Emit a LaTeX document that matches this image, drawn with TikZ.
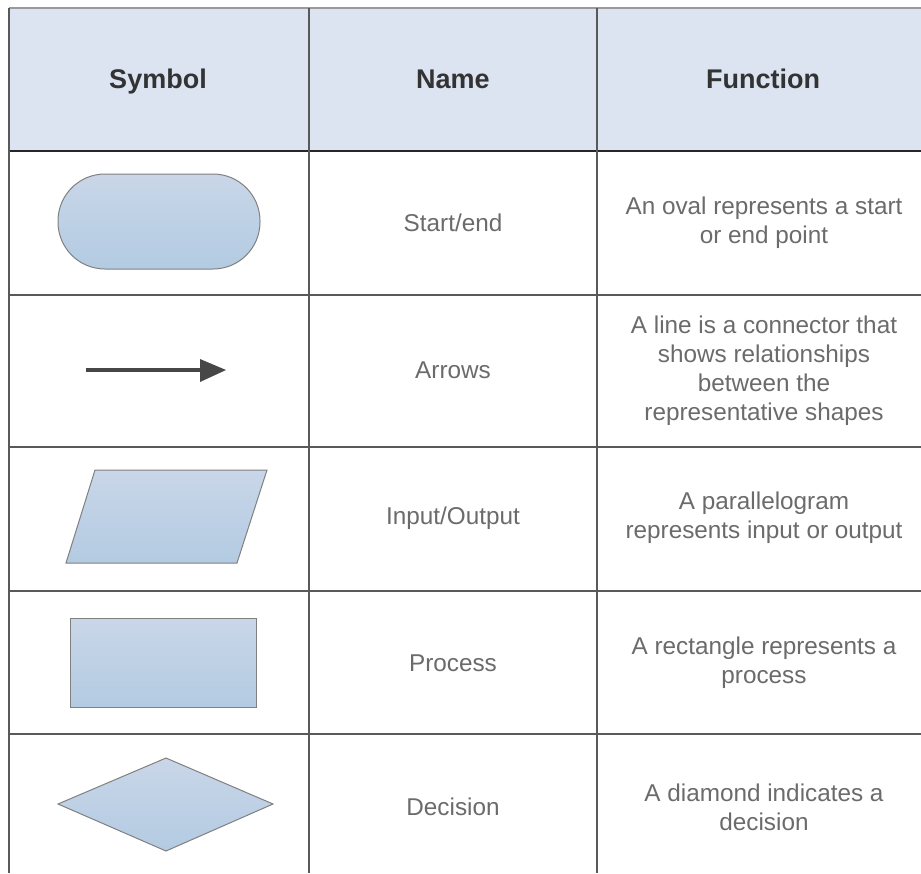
\documentclass[tikz,border=0pt]{standalone}
\usepackage{fontspec}
\setmainfont{Liberation Sans}
\begin{document}
\begin{tikzpicture}[x=1pt,y=-1pt,
  gridline/.style={draw=black!65,line width=1.6pt},
  headtxt/.style={font=\fontsize{27}{30}\selectfont\bfseries,text=black!80,align=center,anchor=base},
  bodytxt/.style={font=\fontsize{24.3}{29}\selectfont,text=black!58,align=center},
  symfill/.style={draw=black!50,line width=1pt,top color=symtop,bottom color=symbot}]
\definecolor{headbg}{HTML}{DCE3F1}
\definecolor{symtop}{HTML}{C9D6E8}
\definecolor{symbot}{HTML}{B3CBE2}
\useasboundingbox (0,0) rectangle (921,873);
\fill[white] (0,0) rectangle (921,873);
% header background
\fill[headbg] (9,8) rectangle (921,151);
% grid
\draw[draw=black!40,line width=1.6pt] (9,8) -- (921,8);
\draw[draw=black!85,line width=1.8pt] (9,151) -- (921,151);
\foreach \yy in {295,447,591,734} \draw[gridline] (9,\yy) -- (921,\yy);
\foreach \xx in {9,309,597} \draw[gridline] (\xx,8) -- (\xx,873);
% header
\node[headtxt] (h1) at (158,88) {Symbol};
\node[headtxt] (h2) at (453,88) {Name};
\node[headtxt] (h3) at (763,88) {Function};
% names
\node[bodytxt] (n1) at (453,223) {Start/end};
\node[bodytxt] (n2) at (453,370) {Arrows};
\node[bodytxt] (n3) at (453,518) {Input/Output};
\node[bodytxt] (n4) at (453,663) {Process};
\node[bodytxt] (n5) at (453,807) {Decision};
% functions
\node[bodytxt] (f1) at (764,223) {An oval represents a start\\or end point};
\node[bodytxt] (f2) at (764,371) {A line is a connector that\\shows relationships\\between the\\representative shapes};
\node[bodytxt] (f3) at (764,518) {A parallelogram\\represents input or output};
\node[bodytxt] (f4) at (764,663) {A rectangle represents a\\process};
\node[bodytxt] (f5) at (764,807) {A diamond indicates a\\decision};
% symbols
\node[symfill,rectangle,rounded corners=47pt,minimum width=202pt,minimum height=95pt,inner sep=0pt] (oval) at (159,221.5) {};
\coordinate (a1) at (86,370);
\coordinate (a2) at (202,370);
\draw[draw=black!72,line width=3.2pt] (a1) -- (a2);
\fill[black!72] (200,359) -- (226,370) -- (200,382) -- cycle;
\path[symfill] (95,470) -- (267,470) -- (237,563) -- (66,563) -- cycle;
\path[symfill] (70,618) rectangle (256,707);
\path[symfill] (58,804) -- (166,758) -- (273,804) -- (166,851) -- cycle;
\end{tikzpicture}
\end{document}
